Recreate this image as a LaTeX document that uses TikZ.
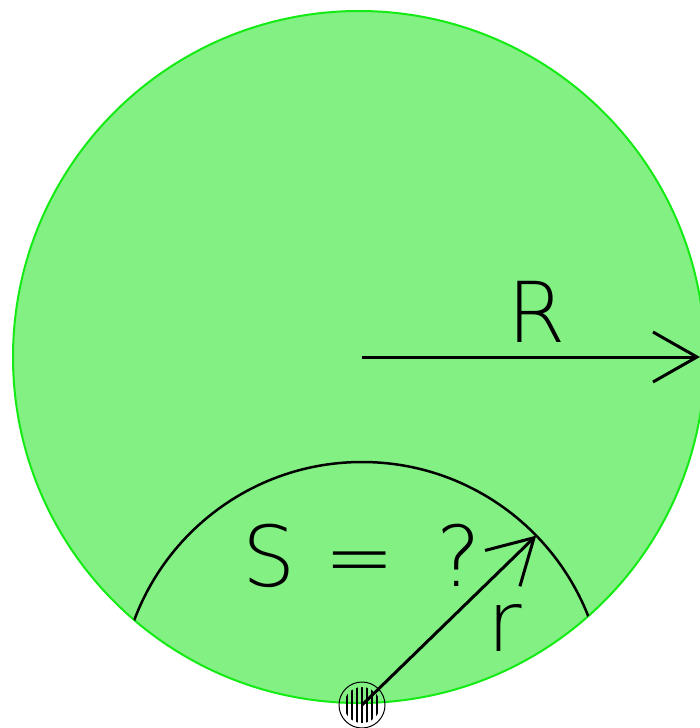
\documentclass[tikz,border=0pt]{standalone}
\usepackage{fontspec}
\setmainfont{DejaVu Sans ExtraLight}
\usetikzlibrary{arrows.meta,calc}
\definecolor{diskfill}{RGB}{130,240,130}
\definecolor{diskedge}{RGB}{20,235,20}
\tikzset{
  bigtxt/.style={font=\fontsize{84}{84}\selectfont, text=black, inner sep=0pt},
  vecline/.style={line width=3pt, -{Straight Barb[length=44pt,width=50pt,line width=3pt]}},
}
\begin{document}
\begin{tikzpicture}[x=1pt,y=-1pt]
\useasboundingbox (0,0) rectangle (699,728);
\coordinate (O) at (359,357);
\coordinate (P) at (362,705);
\coordinate (Rs) at (362,357);
\coordinate (Re) at (700,357);
\coordinate (rtip) at ($(P)+(-44.2:243)$);
\fill[diskfill] (O) circle[radius=346];
\draw[diskedge, line width=2pt] (O) circle[radius=346];
\begin{scope}
  \clip (O) circle[radius=346];
  \draw[line width=2.5pt] (P) circle[radius=243];
\end{scope}
\draw[vecline] (Rs) -- (Re);
\draw[vecline] (P) -- (rtip);
\node[bigtxt] (Rlab) at (537,312) {R};
\node[bigtxt] (Slab) at (362,556) {S\,\,=\,\,\,?};
\node[bigtxt] (rlab) at (505,628) {r};
\node[draw, circle, minimum size=46pt, line width=1pt, inner sep=0pt] (hub) at (P) {};
\begin{scope}
  \clip (P) circle[radius=18];
  \foreach \dx in {-15,-10,-5,0,5,10,15}
    \draw[line width=1.3pt] ($(P)+(\dx,-20)$) -- ($(P)+(\dx,20)$);
\end{scope}
\end{tikzpicture}
\end{document}
